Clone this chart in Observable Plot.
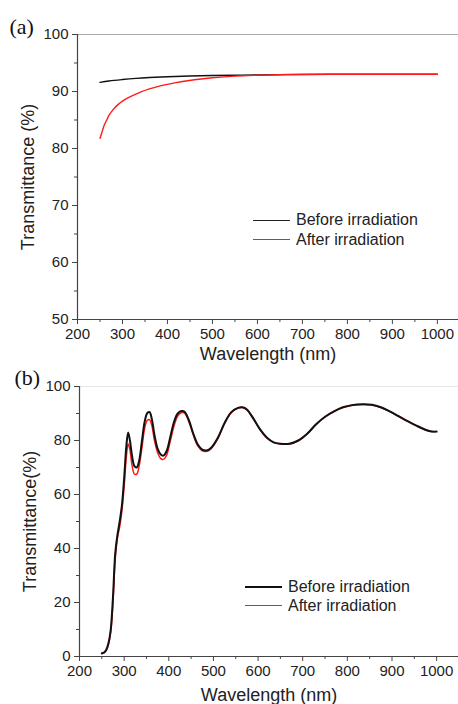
<!DOCTYPE html>
<html>
<head>
<meta charset="utf-8">
<script src="https://cdn.jsdelivr.net/npm/d3@7"></script>
<script src="https://cdn.jsdelivr.net/npm/@observablehq/plot@0.6"></script>
<style>
  body { margin: 0; background: #fff; }
  #wrap { position: relative; width: 458px; height: 704px; font-family: "Liberation Sans", Arial, sans-serif; }
  #wrap svg { display: block; }
  .leg { position: absolute; display: flex; align-items: center; height: 20px; font-size: 16px; color: #222; white-space: nowrap; }
  .leg span.ln { display: inline-block; width: 37px; margin-right: 6px; }
</style>
</head>
<body>
<div id="wrap"></div>
<script>
// ---------- Panel (a) data ----------
const wlBeforeA = [250, 270, 300, 330, 360, 400, 450, 500, 550, 600, 700, 800, 900, 1000];
const tBeforeA  = [91.6, 91.85, 92.1, 92.3, 92.45, 92.6, 92.72, 92.8, 92.86, 92.9, 92.98, 93.05, 93.05, 93.05];
const wlAfterA = [250, 255, 260, 265, 270, 280, 290, 300, 310, 320, 340, 360, 380, 400, 430, 460, 500, 550, 600, 650, 700, 800, 900, 1000];
const tAfterA  = [81.8, 83.0, 84.2, 85.0, 85.8, 86.9, 87.7, 88.3, 88.8, 89.2, 89.9, 90.45, 90.9, 91.25, 91.7, 92.05, 92.4, 92.7, 92.85, 92.95, 93.0, 93.0, 93.0, 93.0];

// ---------- Panel (b) data ----------
const wlBeforeB = [250, 255, 260, 265, 270, 275, 280, 285, 290, 295, 300, 305, 309, 313, 318, 323, 328, 333, 340, 346, 352, 357, 362, 368, 375, 382, 388, 395, 403, 412, 420, 428, 435, 445, 455, 465, 475, 485, 495, 510, 525, 540, 555, 565, 575, 590, 605, 620, 635, 650, 670, 690, 710, 730, 750, 770, 790, 810, 835, 855, 875, 895, 915, 935, 955, 975, 990, 1000];
const tBeforeB  = [1.2, 1.5, 2.5, 5, 10, 22, 38, 45, 50, 56, 66, 78, 83, 80, 74, 70.5, 70, 72, 80, 87, 90.2, 90.5, 88, 82, 77, 74.8, 74.4, 76, 81, 87, 90, 90.9, 90.7, 87.5, 82.5, 78.5, 76.6, 76.3, 77.3, 81, 86.5, 90.5, 92.1, 92.3, 91.5, 88, 84, 81, 79.3, 78.8, 78.8, 80, 82.5, 86, 88.8, 90.8, 92.3, 93.1, 93.4, 93.2, 92.3, 90.8, 89, 87.2, 85.5, 84, 83.3, 83.3];
const wlAfterB = [250, 255, 260, 265, 270, 275, 280, 285, 290, 295, 300, 305, 309, 313, 318, 323, 328, 333, 340, 346, 352, 357, 362, 368, 375, 382, 388, 395, 403, 412, 420, 428, 435, 445, 455, 465, 475, 485, 495, 510, 525, 540, 555, 565, 575, 590, 605, 620, 635, 650, 670, 690, 710, 730, 750, 770, 790, 810, 835, 855, 875, 895, 915, 935, 955, 975, 990];
const tAfterB  = [1.0, 1.3, 2.3, 4.5, 9, 20, 36, 44, 48, 54, 63, 74, 78.8, 76.5, 70.5, 67.6, 67.5, 70, 77.5, 84.5, 87.5, 87.7, 85.5, 80, 75.5, 73.3, 73, 74.5, 79.5, 85.5, 89, 90.3, 90.2, 87, 82, 78, 76.2, 76, 77, 80.8, 86.3, 90.3, 92, 92.2, 91.4, 87.9, 83.9, 80.9, 79.2, 78.7, 78.7, 79.9, 82.4, 85.9, 88.7, 90.7, 92.2, 93, 93.3, 93.1, 92.2, 90.7, 88.9, 87.1, 85.4, 83.9, 83.2];

// ---------- Ticks ----------
const xTicks = [200, 300, 400, 500, 600, 700, 800, 900, 1000];
const xMinor = [250, 350, 450, 550, 650, 750, 850, 950];
const yTicksA = [50, 60, 70, 80, 90, 100];
const yMinorA = [55, 65, 75, 85, 95];
const yTicksB = [0, 20, 40, 60, 80, 100];
const yMinorB = [10, 30, 50, 70, 90];

const seriesNames = ["Before irradiation", "After irradiation"];

const zip = (xs, ys) => xs.map((x, i) => ({wl: x, t: ys[i]}));
const font = "'Liberation Sans', Arial, sans-serif";
const axisColor = "#444";

function panel({w, h, mt, mb, ml, xDom, yDom, yTicks, yMinor, yLabel, xLabelOffset, tag, tagDx, tagDy, topColor, lines}) {
  const svg = Plot.plot({
    width: w, height: h, marginTop: mt, marginBottom: mb, marginLeft: ml, marginRight: 0,
    x: {domain: xDom}, y: {domain: yDom},
    style: {fontFamily: font, fontSize: "15px", color: "#222", background: "#fff", overflow: "visible"},
    marks: [
      Plot.ruleY([yDom[1]], {stroke: topColor, strokeWidth: 1}),
      Plot.axisX({ticks: xTicks, tickFormat: d => String(d), tickSize: 5, tickPadding: 4, stroke: axisColor, fontSize: 15,
                  label: "Wavelength (nm)", labelAnchor: "center", labelArrow: "none", labelOffset: xLabelOffset}),
      Plot.axisX({ticks: xMinor, tickSize: 3, text: null, label: null, stroke: axisColor}),
      Plot.axisY({ticks: yTicks, tickFormat: d => String(d), tickSize: 5, tickPadding: 4, stroke: axisColor, fontSize: 15,
                  label: yLabel, labelAnchor: "center", labelArrow: "none", labelOffset: 56}),
      Plot.axisY({ticks: yMinor, tickSize: 3, text: null, label: null, stroke: axisColor}),
      Plot.ruleX([xDom[0]], {stroke: axisColor, strokeWidth: 1.2}),
      Plot.ruleY([yDom[0]], {stroke: axisColor, strokeWidth: 1.2}),
      ...lines.map(l => Plot.line(l.data, {x: "wl", y: "t", stroke: l.color, strokeWidth: l.sw, curve: "catmull-rom"})),
      Plot.text([tag], {frameAnchor: "top-left", textAnchor: "start", lineAnchor: "bottom", dx: tagDx, dy: tagDy,
                        fontFamily: "'Liberation Serif', 'Times New Roman', serif", fontSize: 22, fill: "#111"})
    ]
  });
  d3.select(svg).selectAll('g[aria-label$="axis label"] text').attr("font-size", 18);
  return svg;
}

const wrap = document.getElementById("wrap");

wrap.appendChild(panel({
  w: 458, h: 362, mt: 34, mb: 43, ml: 77, xDom: [200, 1047], yDom: [50, 100],
  yTicks: yTicksA, yMinor: yMinorA, yLabel: "Transmittance (%)", xLabelOffset: 40, tag: "(a)", tagDx: -68, tagDy: -1,
  topColor: "#aaa",
  lines: [
    {data: zip(wlBeforeA, tBeforeA), color: "#111", sw: 1.4},
    {data: zip(wlAfterA, tAfterA), color: "#ff1a1a", sw: 1.4}
  ]
}));

wrap.appendChild(panel({
  w: 458, h: 342, mt: 24, mb: 48, ml: 79, xDom: [200, 1049], yDom: [0, 100],
  yTicks: yTicksB, yMinor: yMinorB, yLabel: "Transmittance(%)", xLabelOffset: 44, tag: "(b)", tagDx: -65, tagDy: -2,
  topColor: "#e6e6e6",
  lines: [
    {data: zip(wlAfterB, tAfterB), color: "#ff1a1a", sw: 1.5},
    {data: zip(wlBeforeB, tBeforeB), color: "#111", sw: 2}
  ]
}));

// Legends
function legend(x, y, rowGap, styles) {
  seriesNames.forEach((name, i) => {
    const d = document.createElement("div");
    d.className = "leg";
    d.style.left = x + "px";
    d.style.top = (y + i * rowGap - 10) + "px";
    const ln = document.createElement("span");
    ln.className = "ln";
    ln.style.borderTop = styles[i];
    d.appendChild(ln);
    d.appendChild(document.createTextNode(name));
    wrap.appendChild(d);
  });
}
legend(253, 220, 19.5, ["1.5px solid #222", "1px solid #ff1a1a"]);
legend(245, 587, 18.5, ["2.5px solid #111", "1px solid #ff1a1a"]);
</script>
</body>
</html>
